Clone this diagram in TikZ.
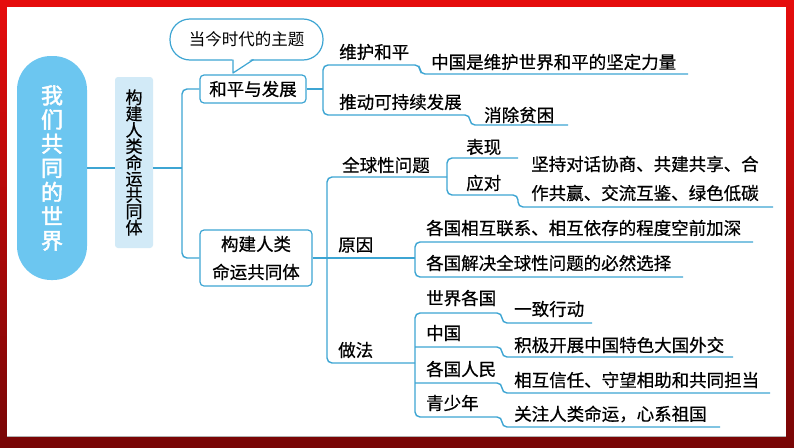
\documentclass[tikz,border=0pt]{standalone}
\usepackage{fontspec}
\setmainfont{Noto Sans CJK SC}[FakeBold=0.6]
\newfontfamily\titlefont{Noto Sans CJK SC}[FakeBold=2]
\newfontfamily\bubfont{Noto Sans CJK SC}
\definecolor{lineblue}{HTML}{3DA5D3}
\definecolor{pillblue}{HTML}{6CC6F0}
\definecolor{subblue}{HTML}{D2EAF7}
\definecolor{framered}{HTML}{E60C0C}
\definecolor{framedark}{HTML}{780606}
\tikzset{
  ln/.style={draw=lineblue, line width=1.4pt, rounded corners=5pt},
  txt/.style={inner sep=0pt, anchor=west, font=\fontsize{17.5}{20}\selectfont},
  box/.style={draw=lineblue, line width=1.2pt, rounded corners=4pt, fill=white, inner sep=0pt, align=center, font=\fontsize{17.5}{28}\selectfont},
}
\begin{document}
\begin{tikzpicture}[x=1pt,y=-1pt]
\useasboundingbox (0,0) rectangle (794,447);
% frame
\shade[top color=framered, bottom color=framedark] (0,0) rectangle (794,447);
\fill[white] (7,7) rectangle (786,437);
\draw[gray!60, line width=0.8pt] (7,436.5) -- (786,436.5);

% title pill
\node[fill=pillblue, rounded corners=34pt, minimum width=70pt, minimum height=224pt, inner sep=0pt,
      text=white, align=center, font=\titlefont\fontsize{22}{24.2}\selectfont] (title) at (52,168)
      {我\\们\\共\\同\\的\\世\\界};
% sub box
\node[fill=subblue, rounded corners=3pt, minimum width=38pt, minimum height=171pt, inner sep=0pt,
      align=center, font=\fontsize{17}{16.3}\selectfont] (sub) at (134,162.5)
      {构\\建\\人\\类\\命\\运\\共\\同\\体};
\coordinate (b1) at (182,168);
\draw[ln] (title.east |- b1) -- (sub.west |- b1);

% level 2 boxes
\node[box, minimum width=106pt, minimum height=28pt] (hp) at (253,89) {和平与发展};
\node[box, minimum width=112pt, minimum height=56pt] (gt) at (256,258) {构建人类\\命运共同体};
\draw[ln] (sub.east |- b1) -- (b1);
\draw[ln] (hp.west) -| (b1) |- (gt.west);

% bubble
\node[draw=lineblue, line width=1.2pt, fill=white, rounded corners=20pt, minimum width=153pt,
      minimum height=41pt, inner sep=0pt, font=\bubfont\fontsize{16.5}{18}\selectfont] (theme) at (246.5,39.5) {当今时代的主题};
\coordinate (tip) at (233,73);
\fill[white] (232.4,57) -- (tip) -- (254,57) -- cycle;
\draw[draw=lineblue, line width=1.2pt, line join=round] (233,59.6) -- (tip) -- (253.5,59.6);

% branch 1: peace & development
\coordinate (b2) at (323,89);
\draw[ln] (hp.east) -- (b2);
\node[txt] (wh) at (339,52) {维护和平};
\node[txt] (wh1) at (431,62) {中国是维护世界和平的坚定力量};
\node[txt] (td) at (339,102) {推动可持续发展};
\node[txt] (td1) at (484,115) {消除贫困};
\coordinate (u1) at (688,74);
\coordinate (u2) at (568,125);
\draw[ln] (u1) -- (420,74) -- (420,65) -- (b2 |- 0,65) -- (b2) -- (b2 |- 0,115) -- (470,115) -- (470,125) -- (u2);

% branch 2
\coordinate (b3) at (327,258);
\coordinate (b5) at (415,258);
\draw[ln] (gt.east) -- (b5);
\node[txt] (qq) at (342,165) {全球性问题};
\node[txt] (yy) at (338,245) {原因};
\node[txt] (zf) at (338,350) {做法};
\coordinate (b4) at (447,177);
\coordinate (b6) at (415,363);
\draw[ln] (b4) -- (b4 -| b3) -- (b3) -- (b3 |- b6) -- (b6);

% global issues
\node[txt] (bx) at (466,147) {表现};
\node[txt] (yd) at (466,183) {应对};
\node[txt] (yd1) at (531,164) {坚持对话协商、共建共享、合};
\node[txt] (yd2) at (531,193) {作共赢、交流互鉴、绿色低碳};
\coordinate (u3) at (518,158);
\coordinate (u4) at (773,207);
\draw[ln] (u3) -- (b4 |- u3) -- (447,195) -- (518,195) -- (518,207) -- (u4);

% reasons
\node[txt] (r1) at (426,228) {各国相互联系、相互依存的程度空前加深};
\node[txt] (r2) at (426,263) {各国解决全球性问题的必然选择};
\coordinate (u5) at (753,242);
\coordinate (u6) at (683,277);
\draw[ln] (u5) -- (b5 |- u5) -- (b5 |- u6) -- (u6);

% methods
\node[txt] (m1) at (426,298) {世界各国};
\node[txt] (m1a) at (514,309) {一致行动};
\node[txt] (m2) at (426,333) {中国};
\node[txt] (m2a) at (514,345) {积极开展中国特色大国外交};
\node[txt] (m3) at (426,369) {各国人民};
\node[txt] (m3a) at (514,380) {相互信任、守望相助和共同担当};
\node[txt] (m4) at (426,403) {青少年};
\node[txt] (m4a) at (514,414) {关注人类命运，心系祖国};
\coordinate (u7) at (592,323);
\coordinate (u8) at (733,357);
\coordinate (u9) at (770,393);
\coordinate (u10) at (720,427);
\draw[ln] (u7) -- (502,323) -- (502,313) -- (415,313) -- (415,417) -- (502,417) -- (502,427) -- (u10);
\draw[ln] (b6 |- 0,347) -- (502,347) -- (502,357) -- (u8);
\draw[ln] (b6 |- 0,383) -- (502,383) -- (502,393) -- (u9);
\end{tikzpicture}
\end{document}
